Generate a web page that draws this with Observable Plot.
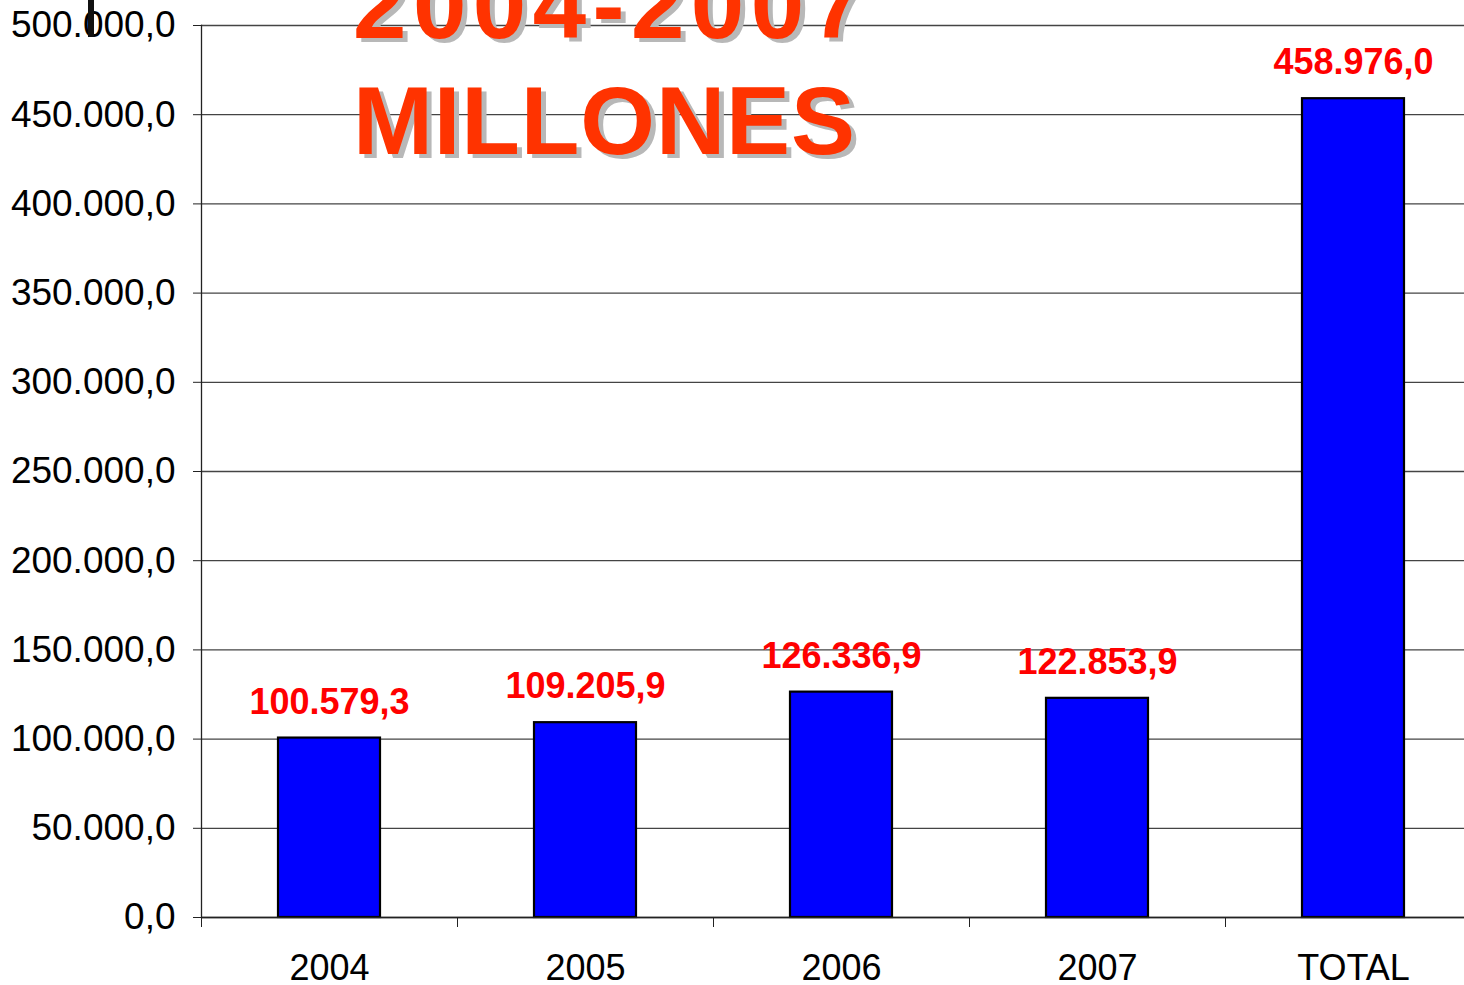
<!DOCTYPE html>
<html><head><meta charset="utf-8">
<script src="https://cdn.jsdelivr.net/npm/d3@7"></script>
<script src="https://cdn.jsdelivr.net/npm/@observablehq/plot@0.6"></script>
<style>
html,body{margin:0;padding:0;background:#fff;overflow:hidden;width:1464px;height:985px}
#wrap{position:relative;width:1464px;height:985px;overflow:hidden}
#chart{position:absolute;left:0;top:0;width:1481px;height:985px}
#chart svg{max-width:none !important;width:1481px !important;height:985px !important}
#overlay{position:absolute;left:0;top:0;pointer-events:none}
</style></head><body>
<div id="wrap"><div id="chart"></div>
<svg id="overlay" width="1464" height="985"></svg>
</div>
<script>
const categories = ["2004", "2005", "2006", "2007", "TOTAL"];
const values = [100579.3, 109205.9, 126336.9, 122853.9, 458976.0];
const yTicks = [0, 50000, 100000, 150000, 200000, 250000, 300000, 350000, 400000, 450000, 500000];
const titleLines = ["2004-2007", "MILLONES"];

const data = categories.map((c, i) => ({cat: c, value: values[i]}));
const loc = d3.formatLocale({decimal: ",", thousands: ".", grouping: [3], currency: ["", ""]});
const fmt = loc.format(",.1f");

const chart = Plot.plot({
  width: 1481, height: 985,
  marginLeft: 201, marginRight: 0, marginTop: 25, marginBottom: 68,
  style: {fontFamily: "'Liberation Sans', Arial, sans-serif", fontSize: "36px", color: "#000", background: "#fff", overflow: "visible"},
  x: {domain: categories, paddingInner: 0.6, paddingOuter: 0.3, axis: null},
  y: {domain: [0, 500000], axis: null},
  marks: [
    Plot.gridY(yTicks, {stroke: "#444", strokeOpacity: 1, strokeWidth: 1.3}),
    Plot.barY(data, {x: "cat", y: "value", fill: "#0000FF", stroke: "#000", strokeWidth: 2.2}),
    Plot.frame({anchor: "left", stroke: "#222", strokeWidth: 1.3}),
    Plot.ruleY([0], {stroke: "#222", strokeWidth: 1.6}),
    Plot.axisY({ticks: yTicks, tickFormat: fmt, tickSize: 8, tickPadding: 18, stroke: "#222", fontSize: 37, label: null}),
    Plot.axisX({tickSize: 10, dx: -128, tickFormat: () => "", stroke: "#222", label: null}),
    Plot.axisX({tickSize: 0, tickPadding: 37, fontSize: 36, label: null}),
    Plot.text(data, {x: "cat", y: "value", text: d => fmt(d.value), dy: -36, fill: "#FF0000", fontWeight: "bold", fontSize: 36})
  ]
});
document.getElementById("chart").appendChild(chart);

// decorative title overlay
const ov = d3.select("#overlay");
const baselines = [38, 154];
const lengths = [511, 502];
titleLines.forEach((t, i) => {
  [["#b8b8b8", 5, 4], ["#FF3300", 0, 0]].forEach(([col, ox, oy]) => {
    ov.append("text").attr("x", 353 + ox).attr("y", baselines[i] + oy)
      .attr("font-family", "'Liberation Sans', Arial, sans-serif").attr("font-weight", "bold")
      .attr("font-size", 96).attr("fill", col)
      .attr("textLength", lengths[i]).attr("lengthAdjust", "spacing").text(t);
  });
});
ov.append("rect").attr("x", 88).attr("y", 0).attr("width", 6).attr("height", 37).attr("fill", "#111");
</script>
</body></html>
